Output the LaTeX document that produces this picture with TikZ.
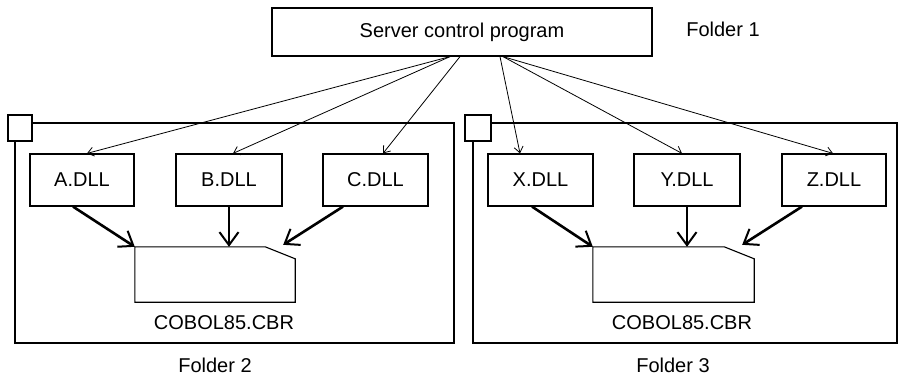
\documentclass[tikz,border=0pt]{standalone}
\usepackage{fontspec}
\setmainfont{Liberation Sans}
\usetikzlibrary{arrows.meta,calc}
\tikzset{
  box/.style={draw, line width=1.2pt, inner sep=0pt, minimum height=52pt},
  frameline/.style={draw, line width=1.2pt},
  thin arrow/.style={line width=0.8pt, -{Straight Barb[length=6pt,width=9pt,line width=0.8pt]}},
  thick arrow/.style={line width=2.6pt, -{Straight Barb[length=13pt,width=19pt,line width=2pt]}},
  lbl/.style={inner sep=0pt, font=\fontsize{20}{24}\selectfont}
}
\begin{document}
\begin{tikzpicture}[x=1pt,y=-1pt]
\useasboundingbox (0,0) rectangle (900,378);
% folders
\draw[frameline] (15,123) rectangle (454,343);
\draw[frameline, fill=white] (8,115) rectangle (32,141);
\draw[frameline] (473,123) rectangle (897,343);
\draw[frameline, fill=white] (465,115) rectangle (491,141);
% server
\node[box, minimum width=380pt, minimum height=48pt, font=\fontsize{20}{24}\selectfont] (server) at (462,32) {Server control program};
\node[lbl] (f1) at (723,29) {Folder 1};
% DLL boxes
\node[box, minimum width=104pt, font=\fontsize{20}{24}\selectfont] (A) at (82,180) {A.DLL};
\node[box, minimum width=106pt, font=\fontsize{20}{24}\selectfont] (B) at (229,180) {B.DLL};
\node[box, minimum width=105pt, font=\fontsize{20}{24}\selectfont] (C) at (375.5,180) {C.DLL};
\node[box, minimum width=105pt, font=\fontsize{20}{24}\selectfont] (X) at (540.5,180) {X.DLL};
\node[box, minimum width=106pt, font=\fontsize{20}{24}\selectfont] (Y) at (687,180) {Y.DLL};
\node[box, minimum width=104pt, font=\fontsize{20}{24}\selectfont] (Z) at (834,180) {Z.DLL};
% COBOL shapes
\node[inner sep=0pt, minimum width=160pt, minimum height=55pt] (cob1) at (215,274.5) {};
\node[inner sep=0pt, minimum width=161pt, minimum height=55pt] (cob2) at (673.5,274.5) {};
\foreach \c in {cob1,cob2}{
  \draw[line width=1.1pt] (\c.south west) -- (\c.north west) -- ([xshift=-30pt]\c.north east)
    -- ([yshift=-12pt]\c.north east) -- (\c.south east) -- cycle;
}
\node[lbl] (t1) at (224,323) {COBOL85.CBR};
\node[lbl] (t2) at (682,323) {COBOL85.CBR};
\node[lbl] (f2) at (215,365) {Folder 2};
\node[lbl] (f3) at (673,365) {Folder 3};
% thin arrows
\draw[thin arrow] ([xshift=-12pt]server.south) -- ([xshift=5pt]A.north);
\draw[thin arrow] ([xshift=-12pt]server.south) -- ([xshift=4pt]B.north);
\draw[thin arrow] ([xshift=-2pt]server.south) -- ([xshift=7.5pt]C.north);
\draw[thin arrow] ([xshift=38pt]server.south) -- ([xshift=-20.5pt]X.north);
\draw[thin arrow] ([xshift=41pt]server.south) -- ([xshift=-5pt]Y.north);
\draw[thin arrow] ([xshift=41pt]server.south) -- ([xshift=-1pt]Z.north);
% thick arrows
\draw[thick arrow] ([xshift=-9pt]A.south) -- (cob1.north west);
\draw[thick arrow] (B.south) -- (B.south |- cob1.north);
\draw[thick arrow] ([xshift=-32.5pt]C.south) -- ([xshift=-12pt,yshift=2pt]cob1.north east);
\draw[thick arrow] ([xshift=-8.5pt]X.south) -- (cob2.north west);
\draw[thick arrow] (Y.south) -- (Y.south |- cob2.north);
\draw[thick arrow] ([xshift=-32pt]Z.south) -- ([xshift=-12pt,yshift=2pt]cob2.north east);
\end{tikzpicture}
\end{document}
